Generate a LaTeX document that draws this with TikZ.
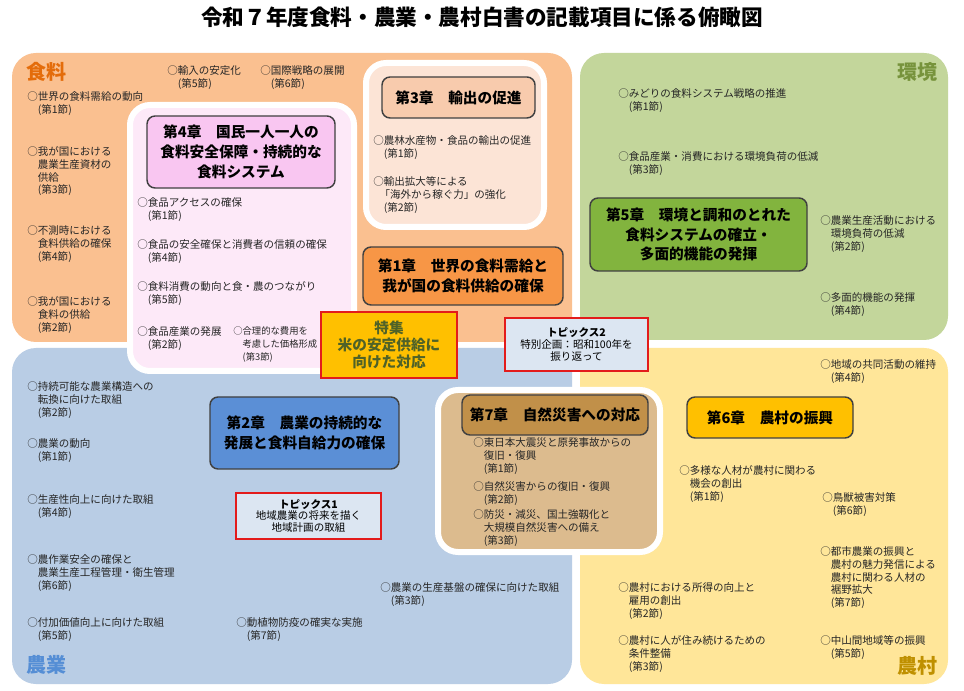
\documentclass[tikz,border=0pt]{standalone}
\usepackage{fontspec}
\setmainfont{Noto Sans CJK JP}
\definecolor{rOrange}{HTML}{FAC090}
\definecolor{rGreen}{HTML}{C3D69B}
\definecolor{rBlue}{HTML}{B9CDE5}
\definecolor{rYellow}{HTML}{FFE699}
\definecolor{pinkFill}{HTML}{FDE9F8}
\definecolor{cFourFill}{HTML}{F9C6F1}
\definecolor{cThreeRegion}{HTML}{FCE4D6}
\definecolor{cThreeFill}{HTML}{F8CBAD}
\definecolor{cOneFill}{HTML}{F79646}
\definecolor{cFiveFill}{HTML}{82B43E}
\definecolor{cTwoFill}{HTML}{5B8FD6}
\definecolor{cSevenRegion}{HTML}{DCBB8E}
\definecolor{cSevenFill}{HTML}{C19049}
\definecolor{cSixFill}{HTML}{FFC000}
\definecolor{spFill}{HTML}{FFC000}
\definecolor{spText}{HTML}{4F6228}
\definecolor{redB}{HTML}{E31B1B}
\definecolor{topFill}{HTML}{DCE6F2}
\definecolor{boxGray}{HTML}{404040}
\definecolor{lblOrange}{HTML}{E46C0A}
\definecolor{lblGreen}{HTML}{77933C}
\definecolor{lblBlue}{HTML}{558ED5}
\definecolor{lblGold}{HTML}{BF9000}
\definecolor{txt}{HTML}{262626}
\newcommand\itind{\hspace*{1em}}
\begin{document}
\begin{tikzpicture}[x=0.75pt,y=-0.75pt,
  region/.style={rounded corners=18pt},
  whitebox/.style={draw=white, line width=4.5pt, rounded corners=15pt},
  itm/.style={anchor=north west, yshift=4pt, inner sep=0pt, align=left, text=txt,
    font=\fontsize{7.9}{9.5}\selectfont},
  chapbox/.style={draw=boxGray, line width=1.1pt, rounded corners=6pt, align=center,
    inner sep=0pt, text=black, font=\bfseries\fontsize{11}{15}\selectfont},
  redbox/.style={draw=redB, line width=1.5pt, align=center, inner sep=0pt},
  lbl/.style={inner sep=0pt, font=\bfseries\fontsize{15}{18}\selectfont}
]
\useasboundingbox (0,0) rectangle (964,691);
\fill[white] (0,0) rectangle (964,691);

% title
\node[inner sep=0pt, font=\bfseries\fontsize{16.2}{19}\selectfont] (title) at (482,17)
  {令和７年度食料・農業・農村白書の記載項目に係る俯瞰図};

% quadrants
\fill[rOrange, region] (12,53) rectangle (572,342);
\fill[rGreen, region] (580,53) rectangle (948,340);
\fill[rBlue, region] (12,348) rectangle (572,684);
\fill[rYellow, region] (580,348) rectangle (948,684);

% region labels
\node[lbl, text=lblOrange, anchor=west] (lf) at (26,72) {食料};
\node[lbl, text=lblGreen, anchor=east] (le) at (938,72) {環境};
\node[lbl, text=lblBlue, anchor=west] (la) at (26,665) {農業};
\node[lbl, text=lblGold, anchor=east] (lr) at (938,666) {農村};

% inner white-bordered regions
\filldraw[whitebox, fill=pinkFill] (130,105) rectangle (354,371);
\filldraw[whitebox, fill=cThreeRegion] (366,63) rectangle (544,227);
\filldraw[whitebox, fill=cSevenRegion] (438,390) rectangle (660,552);

% chapter boxes
\node[chapbox, fill=cFourFill, minimum width=141pt, minimum height=54pt] (c4) at (241,152)
  {第4章　国民一人一人の\\食料安全保障・持続的な\\食料システム};
\node[chapbox, fill=cThreeFill, minimum width=114.75pt, minimum height=30.75pt] (c3) at (458.5,97.5)
  {第3章　輸出の促進};
\node[chapbox, fill=cOneFill, minimum width=150pt, minimum height=43.5pt] (c1) at (463,276)
  {第1章　世界の食料需給と\\我が国の食料供給の確保};
\node[chapbox, fill=cFiveFill, minimum width=162.75pt, minimum height=54.75pt,
  font=\bfseries\fontsize{11}{14.5}\selectfont] (c5) at (698.5,234.5)
  {第5章　環境と調和のとれた\\食料システムの確立・\\多面的機能の発揮};
\node[chapbox, fill=cTwoFill, minimum width=141.75pt, minimum height=54pt] (c2) at (304.5,433)
  {第2章　農業の持続的な\\発展と食料自給力の確保};
\node[chapbox, fill=cSevenFill, minimum width=139.5pt, minimum height=30pt] (c7) at (555,415)
  {第7章　自然災害への対応};
\node[chapbox, fill=cSixFill, minimum width=124.5pt, minimum height=30.75pt] (c6) at (770,417.5)
  {第6章　農村の振興};

% special & topics
\node[redbox, fill=spFill, minimum width=102pt, minimum height=49.5pt, text=spText,
  font=\bfseries\fontsize{11}{13}\selectfont] (sp) at (389,345)
  {特集\\米の安定供給に\\向けた対応};
\node[redbox, fill=topFill, minimum width=107.25pt, minimum height=39.75pt,
  font=\fontsize{7.9}{8.7}\selectfont] (t2) at (576.5,344.5)
  {\textbf{トピックス2}\\特別企画：昭和100年を\\振り返って};
\node[redbox, fill=topFill, minimum width=108.75pt, minimum height=34.5pt,
  font=\fontsize{7.9}{8.7}\selectfont] (t1) at (308.5,516)
  {\textbf{トピックス1}\\地域農業の将来を描く\\地域計画の取組};

% food items
\node[itm] (f5) at (167,71) {○輸入の安定化\\\itind(第5節)};
\node[itm] (f6) at (260,71) {○国際戦略の展開\\\itind(第6節)};
\node[itm] (f1) at (27,97) {○世界の食料需給の動向\\\itind(第1節)};
\node[itm] (f3) at (27,152) {○我が国における\\\itind 農業生産資材の\\\itind 供給\\\itind(第3節)};
\node[itm] (f4) at (27,231) {○不測時における\\\itind 食料供給の確保\\\itind(第4節)};
\node[itm] (f2) at (27,302) {○我が国における\\\itind 食料の供給\\\itind(第2節)};

% chapter 4 items
\node[itm] (p1) at (137,203) {○食品アクセスの確保\\\itind(第1節)};
\node[itm] (p4) at (137,245) {○食品の安全確保と消費者の信頼の確保\\\itind(第4節)};
\node[itm] (p5) at (137,287) {○食料消費の動向と食・農のつながり\\\itind(第5節)};
\node[itm] (p2) at (137,332) {○食品産業の発展\\\itind(第2節)};
\node[itm, font=\fontsize{7}{9.5}\selectfont] (p3) at (233,332) {○合理的な費用を\\\itind 考慮した価格形成\\\itind(第3節)};

% chapter 3 items
\node[itm] (e1) at (373,141) {○農林水産物・食品の輸出の促進\\\itind(第1節)};
\node[itm] (e2) at (373,182) {○輸出拡大等による\\\hspace*{0.6em}「海外から稼ぐ力」の強化\\\itind(第2節)};

% environment items
\node[itm] (g1) at (618,94) {○みどりの食料システム戦略の推進\\\itind(第1節)};
\node[itm] (g3) at (618,157) {○食品産業・消費における環境負荷の低減\\\itind(第3節)};
\node[itm] (g2) at (820,221) {○農業生産活動における\\\itind 環境負荷の低減\\\itind(第2節)};
\node[itm] (g4) at (820,298) {○多面的機能の発揮\\\itind(第4節)};

% agriculture items
\node[itm] (a2) at (27,387) {○持続可能な農業構造への\\\itind 転換に向けた取組\\\itind(第2節)};
\node[itm] (a1) at (27,444) {○農業の動向\\\itind(第1節)};
\node[itm] (a4) at (27,500) {○生産性向上に向けた取組\\\itind(第4節)};
\node[itm] (a6) at (27,560) {○農作業安全の確保と\\\itind 農業生産工程管理・衛生管理\\\itind(第6節)};
\node[itm] (a5) at (27,623) {○付加価値向上に向けた取組\\\itind(第5節)};
\node[itm] (a7) at (236,623) {○動植物防疫の確実な実施\\\itind(第7節)};
\node[itm] (a3) at (380,588) {○農業の生産基盤の確保に向けた取組\\\itind(第3節)};

% chapter 7 items
\node[itm] (d1) at (473,443) {○東日本大震災と原発事故からの\\\itind 復旧・復興\\\itind(第1節)};
\node[itm] (d2) at (473,487) {○自然災害からの復旧・復興\\\itind(第2節)};
\node[itm] (d3) at (473,515) {○防災・減災、国土強靱化と\\\itind 大規模自然災害への備え\\\itind(第3節)};

% rural items
\node[itm] (r4) at (820,365) {○地域の共同活動の維持\\\itind(第4節)};
\node[itm] (r1) at (679,471) {○多様な人材が農村に関わる\\\itind 機会の創出\\\itind(第1節)};
\node[itm] (r6) at (822,498) {○鳥獣被害対策\\\itind(第6節)};
\node[itm] (r7) at (820,552) {○都市農業の振興と\\\itind 農村の魅力発信による\\\itind 農村に関わる人材の\\\itind 裾野拡大\\\itind(第7節)};
\node[itm] (r2) at (618,588) {○農村における所得の向上と\\\itind 雇用の創出\\\itind(第2節)};
\node[itm] (r3) at (618,641) {○農村に人が住み続けるための\\\itind 条件整備\\\itind(第3節)};
\node[itm] (r5) at (820,641) {○中山間地域等の振興\\\itind(第5節)};
\end{tikzpicture}
\end{document}
